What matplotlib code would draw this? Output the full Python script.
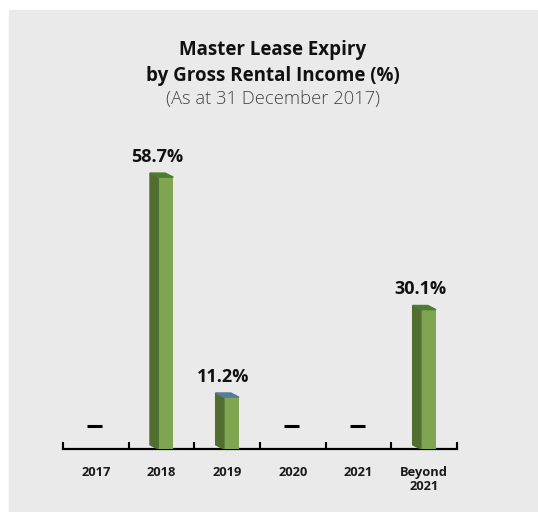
import matplotlib.pyplot as plt
from matplotlib.patches import Polygon

# Lease expiry profile by gross rental income
years = ['2017', '2018', '2019', '2020', '2021', 'Beyond\n2021']
share = [0.0, 58.7, 11.2, 0.0, 0.0, 30.1]
top_colors = ['#4E7B33', '#4E7B33', '#587A9A', '#4E7B33', '#4E7B33', '#4E7B33']

front_col = '#80A550'
side_col = '#4F6E2F'
bg = '#EAEAEA'

plt.rcParams['font.family'] = ['Open Sans', 'DejaVu Sans']

fig = plt.figure(figsize=(5.38, 5.12), dpi=100)
fig.patch.set_facecolor('white')
fig.patches.append(plt.Rectangle((9 / 538, 0), 528 / 538, 502 / 512,
                                 transform=fig.transFigure, color=bg, zorder=-10))

ax = fig.add_axes([63 / 538, 63 / 512, 394 / 538, 70 * 4.63 / 512])
ax.set_facecolor('none')
ax.set_xlim(-0.5, 5.5)
ax.set_ylim(0, 70)

# pseudo-3D bars: front face, dark left side and coloured top
x0, w = -0.05, 0.23
dx, dy = -0.125, 0.9
for i, v in enumerate(share):
    if v == 0:
        ax.plot([i - 0.13, i + 0.10], [5, 5], color='black', lw=2.2,
                solid_capstyle='butt')
        continue
    left = i + x0
    ax.bar(left, v, width=w, align='edge', color=front_col, zorder=3)
    side = [(left, 0), (left, v), (left + dx, v + dy), (left + dx, dy)]
    ax.add_patch(Polygon(side, closed=True, color=side_col, zorder=3))
    top = [(left, v), (left + w, v), (left + w + dx, v + dy), (left + dx, v + dy)]
    ax.add_patch(Polygon(top, closed=True, color=top_colors[i], zorder=3))
    ax.annotate(f'{v:.1f}%', (i - 0.06, v), xytext=(0, 11),
                textcoords='offset points', ha='center', va='baseline',
                fontsize=13, fontweight='bold', color='#111111')

for s in ['top', 'right', 'left']:
    ax.spines[s].set_visible(False)
ax.spines['bottom'].set_linewidth(1.6)
ax.set_yticks([])
ax.set_xticks(range(len(years)), years, fontsize=9.3, fontweight='bold',
              color='#1a1a1a', linespacing=1.1)
ax.set_xticks([i - 0.5 for i in range(len(years) + 1)], minor=True)
ax.tick_params(axis='x', which='major', length=0, pad=12)
ax.tick_params(axis='x', which='minor', direction='in', length=5, width=1.5)

fig.text(273 / 538, 1 - 50 / 512, 'Master Lease Expiry', ha='center',
         va='center', fontsize=13.5, fontweight='bold', color='#111111')
fig.text(273 / 538, 1 - 76 / 512, 'by Gross Rental Income (%)', ha='center',
         va='center', fontsize=13.5, fontweight='bold', color='#111111')
fig.text(273 / 538, 1 - 99 / 512, '(As at 31 December 2017)', ha='center',
         va='center', fontsize=13.2, fontweight='light', color='#444444')

fig.savefig('out.png', dpi=100, facecolor=fig.get_facecolor())
